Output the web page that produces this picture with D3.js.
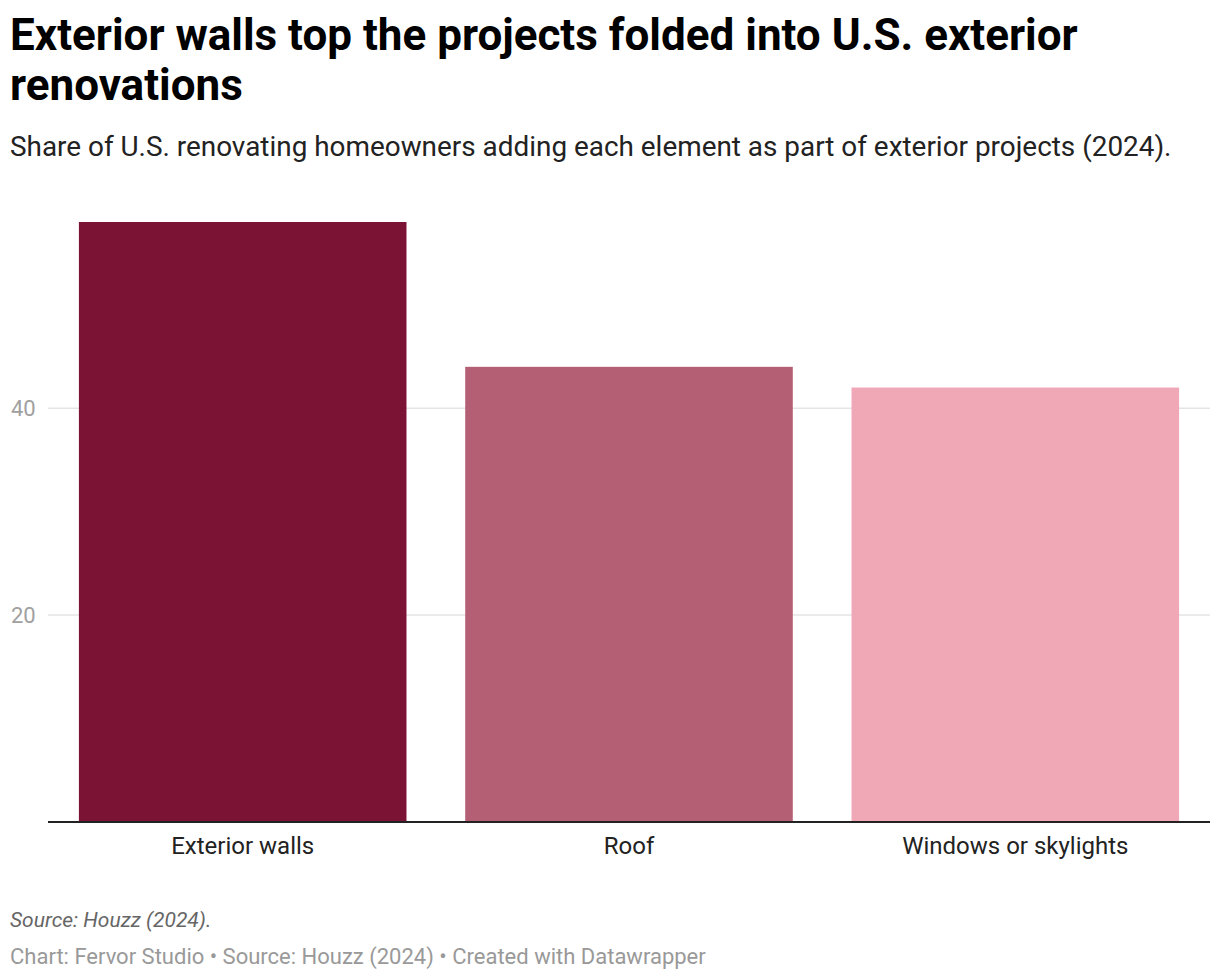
<!DOCTYPE html>
<html><head><meta charset="utf-8">
<script src="https://cdn.jsdelivr.net/npm/d3@7"></script>
<style>
body{margin:0;background:#fff;font-family:Roboto,sans-serif;}
</style></head>
<body>
<svg id="chart" width="1220" height="980"></svg>
<script>
const categories = ["Exterior walls", "Roof", "Windows or skylights"];
const values = [58, 44, 42];
const colors = ["#7b1335", "#b55f75", "#f0a8b7"];
const yTicks = [20, 40];

const svg = d3.select("#chart");
const x = d3.scaleBand().domain(categories).range([48, 1210]).paddingInner(0.152).paddingOuter(0.08);
const y = d3.scaleLinear().domain([0, 58]).range([822, 222]);

svg.append("text").attr("x", 10).attr("y", 50).attr("font-size", 44).attr("font-weight", 700).attr("fill", "#000")
  .text("Exterior walls top the projects folded into U.S. exterior");
svg.append("text").attr("x", 10).attr("y", 100).attr("font-size", 44).attr("font-weight", 700).attr("fill", "#000")
  .text("renovations");
svg.append("text").attr("x", 10).attr("y", 156).attr("font-size", 27.9).attr("fill", "#222")
  .text("Share of U.S. renovating homeowners adding each element as part of exterior projects (2024).");

const grid = svg.append("g");
grid.selectAll("line").data(yTicks).join("line")
  .attr("x1", 48).attr("x2", 1210).attr("y1", d => y(d)).attr("y2", d => y(d))
  .attr("stroke", "#e5e5e5").attr("stroke-width", 1.5);
grid.selectAll("text").data(yTicks).join("text")
  .attr("x", 11).attr("y", d => y(d) + 8).attr("font-size", 22).attr("fill", "#a0a0a0").text(d => d);

svg.append("g").selectAll("rect").data(categories).join("rect")
  .attr("x", d => x(d)).attr("width", x.bandwidth())
  .attr("y", (d, i) => y(values[i])).attr("height", (d, i) => y(0) - y(values[i]))
  .attr("fill", (d, i) => colors[i]);

svg.append("line").attr("x1", 48).attr("x2", 1210).attr("y1", 822).attr("y2", 822)
  .attr("stroke", "#222").attr("stroke-width", 2);

svg.append("g").selectAll("text").data(categories).join("text")
  .attr("x", d => x(d) + x.bandwidth() / 2).attr("y", 854).attr("text-anchor", "middle")
  .attr("font-size", 24).attr("fill", "#222").text(d => d);

svg.append("text").attr("x", 10).attr("y", 927).attr("font-size", 21).attr("font-style", "italic").attr("fill", "#666")
  .text("Source: Houzz (2024).");
svg.append("text").attr("x", 10).attr("y", 964).attr("font-size", 22).attr("fill", "#999")
  .text("Chart: Fervor Studio • Source: Houzz (2024) • Created with Datawrapper");
</script>
</body></html>
